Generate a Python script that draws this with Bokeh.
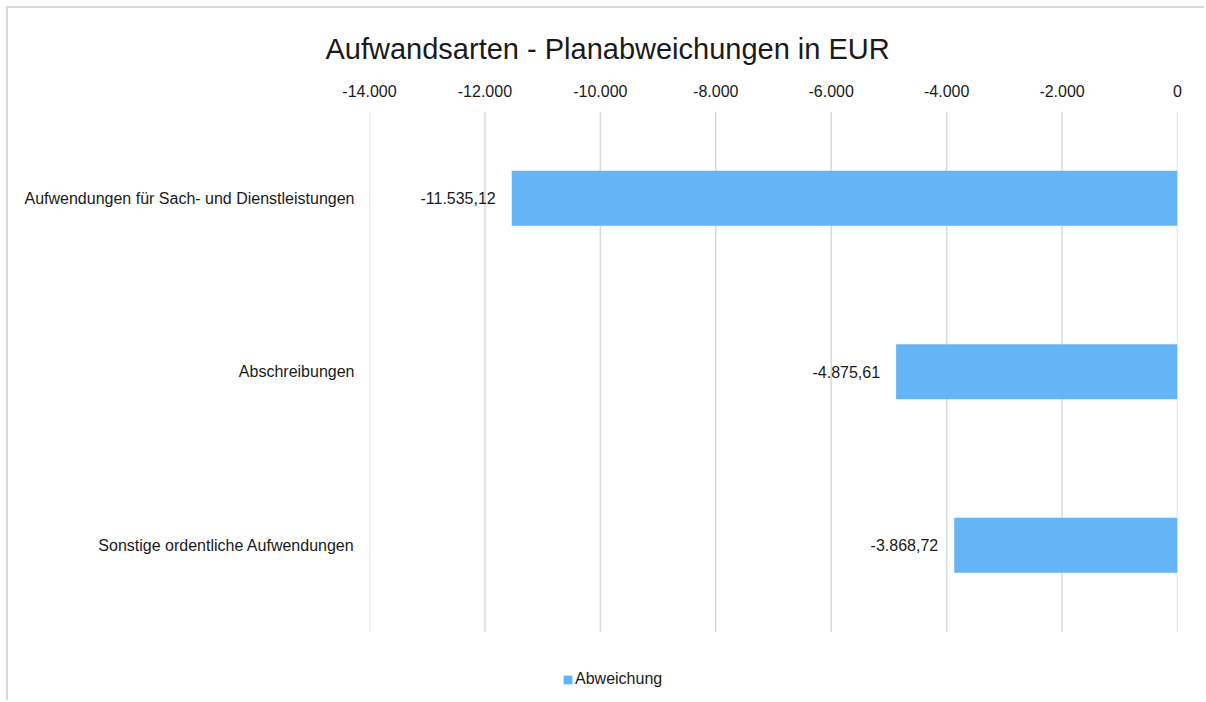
from bokeh.plotting import figure
from bokeh.models import (Range1d, FixedTicker, ColumnDataSource,
                          Legend, LegendItem, LinearAxis, Title)
from bokeh.core.properties import value
from bokeh.embed import file_html
from bokeh.resources import INLINE

categories = ["Aufwendungen für Sach- und Dienstleistungen",
              "Abschreibungen",
              "Sonstige ordentliche Aufwendungen"]
values = [-11535.12, -4875.61, -3868.72]
series_name = "Abweichung"
tick_values = [-14000, -12000, -10000, -8000, -6000, -4000, -2000, 0]
tick_labels = ["-14.000", "-12.000", "-10.000", "-8.000", "-6.000", "-4.000", "-2.000", "0"]
title_text = "Aufwandsarten - Planabweichungen in EUR"

FONT = "Liberation Sans"
BAR = "#63B5F5"
TXT = "#1a1a1a"
GRID = "#d9d9d9"
FS = "16px"


def de_fmt(v):
    s = f"{v:,.2f}"
    return s.replace(",", "X").replace(".", ",").replace("X", ".")


n = len(categories)
ypos = [n - 0.5 - i for i in range(n)]          # first category on top

src = ColumnDataSource(dict(y=ypos, val=values, lbl=[de_fmt(v) for v in values]))

W, H = 1198, 694
L, R, T, B = 361, 29, 103, 0
band_px = 173.5
frame_h = H - T - B
y_start = n - frame_h / band_px

p = figure(width=W, height=H, output_backend="svg", toolbar_location=None,
           x_range=Range1d(tick_values[0], tick_values[-1]),
           y_range=Range1d(y_start, n),
           x_axis_location=None, y_axis_location="left",
           min_border_left=L, min_border_right=R,
           min_border_top=T, min_border_bottom=B)
p.outline_line_color = None
p.background_fill_color = "white"
p.border_fill_color = "white"
p.xgrid.grid_line_color = None
p.ygrid.grid_line_color = None

p.title = Title(text=title_text, align="left", offset=-44, text_font=FONT,
                text_font_size="29px", text_font_style="normal",
                text_color=TXT, standoff=34)

xa = LinearAxis(ticker=FixedTicker(ticks=tick_values))
xa.major_label_overrides = {t: l for t, l in zip(tick_values, tick_labels)}
xa.axis_line_color = None
xa.major_tick_line_color = None
xa.minor_tick_line_color = None
xa.major_label_text_font = FONT
xa.major_label_text_font_size = FS
xa.major_label_text_color = TXT
xa.major_label_standoff = 9
p.add_layout(xa, "above")

ya = p.yaxis[0]
ya.ticker = FixedTicker(ticks=ypos)
ya.major_label_overrides = {y: c for y, c in zip(ypos, categories)}
ya.axis_line_color = None
ya.major_tick_line_color = None
ya.minor_tick_line_color = None
ya.major_label_text_font = FONT
ya.major_label_text_font_size = FS
ya.major_label_text_color = TXT
ya.major_label_standoff = 9

# vertical gridlines over the category area
p.segment(x0=tick_values, y0=[0] * len(tick_values), x1=tick_values,
          y1=[n] * len(tick_values), line_color=GRID, line_width=1.5)

bars = p.hbar(y="y", right="val", left=0, height=0.317, source=src,
              fill_color=BAR, line_color=None)
p.text(x="val", y="y", text="lbl", source=src, x_offset=-16,
       text_align="right", text_baseline="middle",
       text_font=value(FONT), text_font_size=FS, text_color=TXT)

leg = Legend(items=[LegendItem(label=series_name, renderers=[bars])],
             orientation="horizontal", location=(193, 14),
             label_text_font=FONT, label_text_font_size=FS,
             label_text_color=TXT, glyph_width=11, glyph_height=11,
             label_standoff=2, padding=0, margin=0, spacing=0,
             border_line_color=None, background_fill_alpha=0)
p.add_layout(leg, "center")

p.styles = {"margin-left": "6px", "margin-top": "6px",
            "border-left": "2px solid #d9d9d9", "border-top": "2px solid #d9d9d9"}

open("out.html", "w").write(file_html(p, INLINE))
